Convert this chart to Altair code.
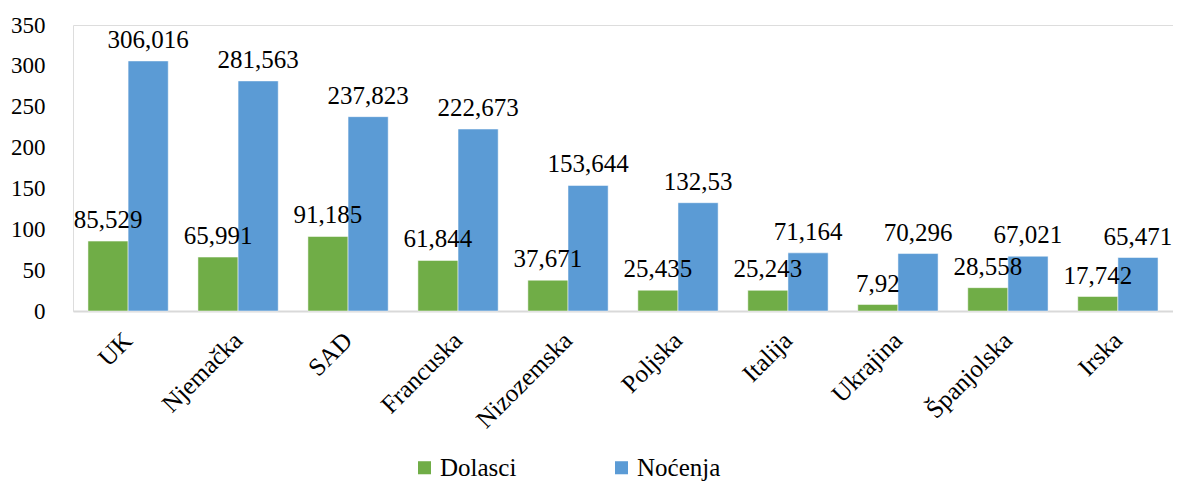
import altair as alt
import pandas as pd

countries = ["UK", "Njemačka", "SAD", "Francuska", "Nizozemska", "Poljska", "Italija", "Ukrajina", "Španjolska", "Irska"]
dolasci = [85.529, 65.991, 91.185, 61.844, 37.671, 25.435, 25.243, 7.92, 28.558, 17.742]
nocenja = [306.016, 281.563, 237.823, 222.673, 153.644, 132.53, 71.164, 70.296, 67.021, 65.471]
series = ["Dolasci", "Noćenja"]
colors = ["#70AD47", "#5B9BD5"]

rows = []
for c, d, n in zip(countries, dolasci, nocenja):
    rows.append({"country": c, "series": series[0], "value": d, "label": str(d).replace(".", ",")})
    rows.append({"country": c, "series": series[1], "value": n, "label": str(n).replace(".", ",")})
df = pd.DataFrame(rows)

FONT = "Liberation Serif"

x = alt.X("country:N", sort=countries, title=None,
          scale=alt.Scale(paddingInner=0.27, paddingOuter=0.136),
          axis=alt.Axis(labelAngle=-45, labelAlign="right", labelBaseline="middle",
                        labelFontSize=25, labelFont=FONT, labelColor="#000000",
                        labelPadding=25, ticks=False, domainColor="#D9D9D9", domainWidth=2,
                        labelLimit=300))
xo = alt.XOffset("series:N", sort=series, scale=alt.Scale(paddingInner=0, paddingOuter=0))
y = alt.Y("value:Q", title=None,
          scale=alt.Scale(domain=[0, 350], nice=False),
          axis=alt.Axis(values=list(range(0, 351, 50)), grid=False, domain=False, ticks=False,
                        labelFontSize=23, labelFont=FONT, labelColor="#000000", labelPadding=28))

color = alt.Color("series:N", sort=series, title=None,
                  scale=alt.Scale(domain=series, range=colors),
                  legend=alt.Legend(orient="none", legendX=339, legendY=430, direction="horizontal",
                                    symbolType="square", symbolSize=170, symbolStrokeWidth=0,
                                    labelFontSize=25, labelFont=FONT, labelColor="#000000",
                                    columnPadding=92, symbolOffset=0, labelOffset=3))

bars = alt.Chart(df).mark_bar(stroke="white", strokeWidth=0.5).encode(x=x, xOffset=xo, y=y, color=color)
text = alt.Chart(df).mark_text(baseline="bottom", dy=-8, fontSize=25, font=FONT, color="#000000").encode(
    x=alt.X("country:N", sort=countries), xOffset=xo, y="value:Q", text="label:N")

chart = alt.layer(bars, text).properties(
    width=1100, height=286,
    padding={"left": 65, "top": 17, "right": 0, "bottom": 172},
    autosize=alt.AutoSizeParams(type="none"),
).configure_view(stroke=None).configure(background="white", font=FONT).configure_legend(
    labelFont=FONT, labelFontSize=25)

chart.save("out.html", embed_options={"renderer": "svg", "actions": False})
